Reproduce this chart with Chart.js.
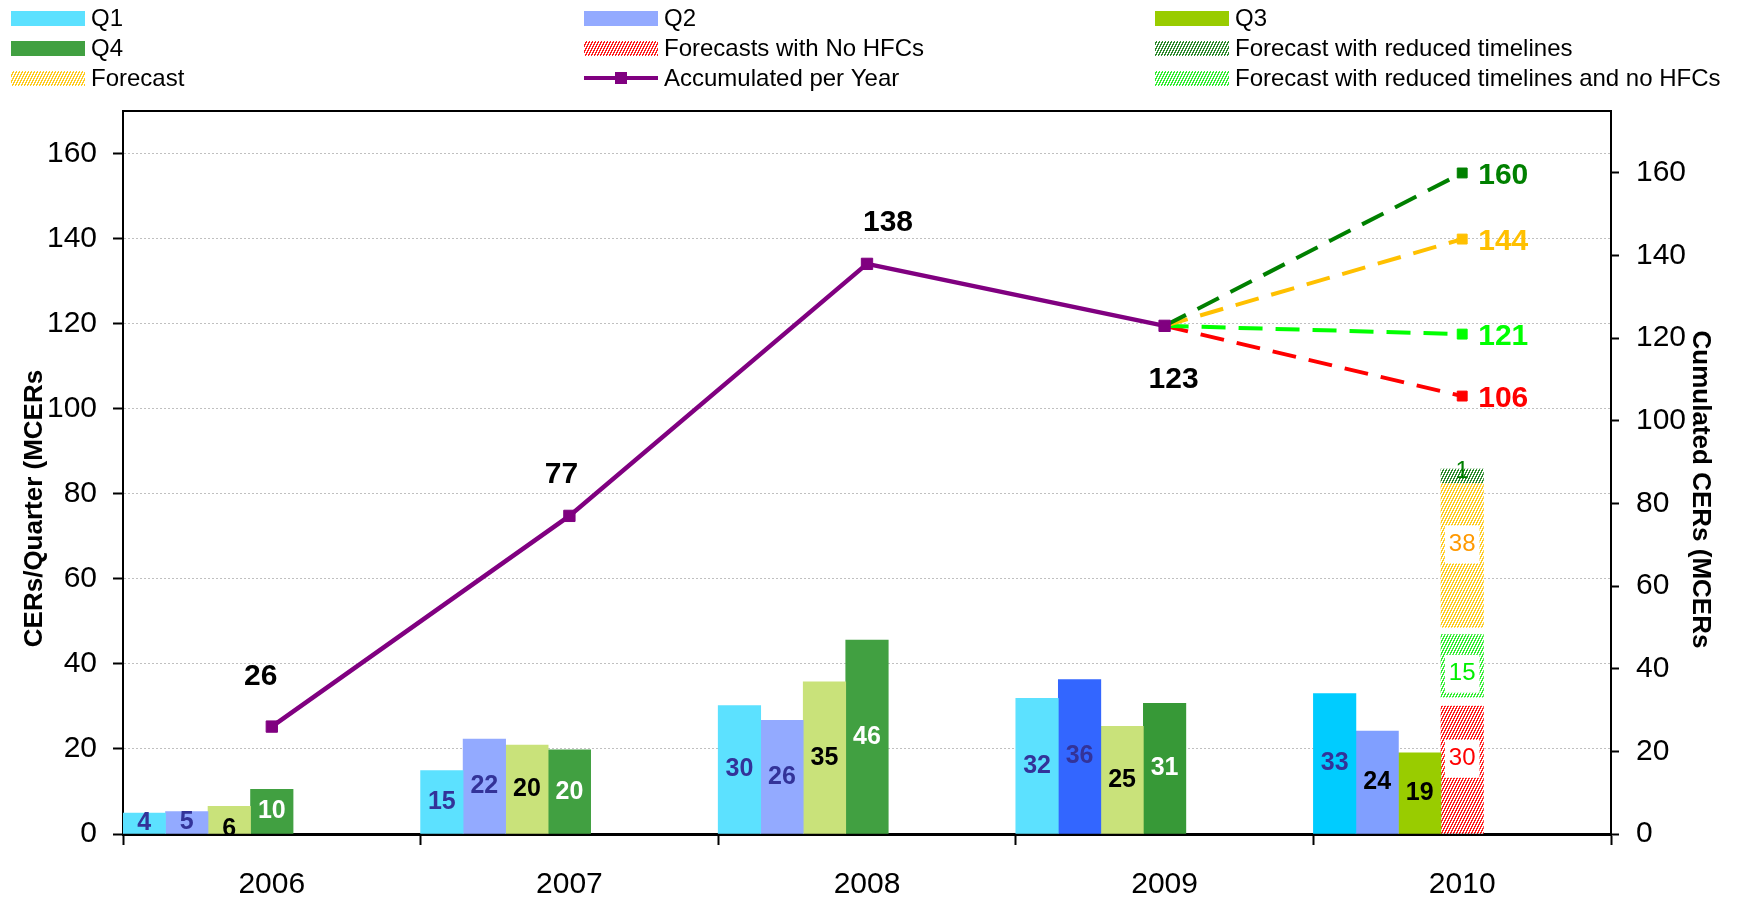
<!DOCTYPE html>
<html>
<head>
<meta charset="utf-8">
<script src="https://cdn.jsdelivr.net/npm/chart.js@4/dist/chart.umd.min.js"></script>
<style>
html, body { margin: 0; padding: 0; background: #fff; }
canvas { display: block; }
</style>
</head>
<body>
<canvas id="grafico" width="1737" height="903"></canvas>
<script>
// categories
const years = ['2006', '2007', '2008', '2009', '2010'];

// quarterly CERs (bar heights) and the numbers printed on them
const q1 = [4.9, 14.9, 30.2, 31.9, 33.0];
const q2 = [5.3, 22.3, 26.7, 36.3, 24.2];
const q3 = [6.5, 20.9, 35.8, 25.3, 19.1];
const q4 = [10.5, 19.8, 45.6, 30.7, null];
const q1Text = ['4', '15', '30', '32', '33'];
const q2Text = ['5', '22', '26', '36', '24'];
const q3Text = ['6', '20', '35', '25', '19'];
const q4Text = ['10', '20', '46', '31', null];

// 2010 forecast segments (floating, start/end on left axis)
const noHfc = [null, null, null, null, [0, 30.1]];
const reducedNoHfc = [null, null, null, null, [32.2, 46.9]];
const forecast = [null, null, null, null, [48.6, 82.4]];
const reduced = [null, null, null, null, [82.5, 85.8]];
const noHfcText = [null, null, null, null, '30'];
const reducedNoHfcText = [null, null, null, null, '15'];
const forecastText = [null, null, null, null, '38'];
const reducedText = [null, null, null, null, '1'];

// cumulated CERs per year (right axis)
const accumulated = [26, 77, 138, 123, null];
const accumulatedText = ['26', '77', '138', '123', null];
const accReduced = [null, null, null, 123, 160];
const accForecast = [null, null, null, 123, 144];
const accReducedNoHfc = [null, null, null, 123, 121];
const accNoHfc = [null, null, null, 123, 106];
const accReducedText = [null, null, null, null, '160'];
const accForecastText = [null, null, null, null, '144'];
const accReducedNoHfcText = [null, null, null, null, '121'];
const accNoHfcText = [null, null, null, null, '106'];

const leftTitle = 'CERs/Quarter (MCERs';
const rightTitle = 'Cumulated CERs (MCERs';

const legendOrder = [
    ['Q1', 'Q2', 'Q3'],
    ['Q4', 'Forecasts with No HFCs', 'Forecast with reduced timelines'],
    ['Forecast', 'Accumulated per Year', 'Forecast with reduced timelines and no HFCs']
];

Chart.defaults.font.family = "'Liberation Sans', Arial, sans-serif";
Chart.defaults.color = '#000';

function hatch(color) {
    const c = document.createElement('canvas');
    c.width = 6; c.height = 6;
    const g = c.getContext('2d');
    g.fillStyle = '#fff';
    g.fillRect(0, 0, 6, 6);
    g.fillStyle = color;
    for (let x = 0; x < 6; x++) {
        for (let y = 0; y < 6; y++) {
            if ((2 * x + y) % 6 < 3) g.fillRect(x, y, 1, 1);
        }
    }
    return g.createPattern(c, 'repeat');
}

const BAR_FONT = "bold 25px 'Liberation Sans', Arial, sans-serif";
const BOX_FONT = "24px 'Liberation Sans', Arial, sans-serif";
const BIG_FONT = "bold 30px 'Liberation Sans', Arial, sans-serif";
const TITLE_FONT = "bold 26px 'Liberation Sans', Arial, sans-serif";

const endRadius = (c) => c.dataIndex === 4 ? 7 : 0;

function forecastLine(label, data, color, text) {
    return {
        type: 'line', label: label, data: data, yAxisID: 'y1',
        borderColor: color, backgroundColor: color, borderWidth: 4,
        borderDash: [24, 13], pointStyle: 'rect', pointRadius: endRadius,
        pointBorderWidth: 1, fill: false, tension: 0,
        printed: text, printColor: color, printFont: BIG_FONT,
        printAlign: 'left', printOffset: [16, 3]
    };
}

const valueLabels = {
    id: 'valueLabels',
    afterDatasetsDraw(chart) {
        const ctx = chart.ctx;
        chart.data.datasets.forEach((ds, i) => {
            if (!ds.printed) return;
            const meta = chart.getDatasetMeta(i);
            meta.data.forEach((el, j) => {
                const txt = ds.printed[j];
                if (txt == null) return;
                let x = el.x, y = el.y;
                if (meta.type === 'bar') y = (el.y + el.base) / 2;
                let off = ds.printOffset || [0, 0];
                if (Array.isArray(off[0])) off = off[j];
                x += off[0]; y += off[1];
                ctx.save();
                ctx.font = ds.printFont;
                ctx.textAlign = ds.printAlign || 'center';
                ctx.textBaseline = 'middle';
                if (ds.printBox) {
                    const w = ctx.measureText(txt).width + 8;
                    ctx.fillStyle = '#fff';
                    ctx.fillRect(x - w / 2, y - 19, w, 38);
                }
                ctx.fillStyle = Array.isArray(ds.printColor) ? ds.printColor[j] : ds.printColor;
                ctx.fillText(txt, x, y);
                ctx.restore();
            });
        });
    }
};

const gridLegend = {
    id: 'gridLegend',
    afterDraw(chart) {
        const ctx = chart.ctx;
        const colX = [11, 584, 1155];
        const rowY = [18, 48, 78];
        ctx.save();
        ctx.font = "24px 'Liberation Sans', Arial, sans-serif";
        ctx.textBaseline = 'middle';
        legendOrder.forEach((row, r) => {
            row.forEach((name, c) => {
                const ds = chart.data.datasets.find(d => d.label === name);
                const x = colX[c], y = rowY[r];
                if (ds.type === 'line') {
                    ctx.strokeStyle = ds.borderColor;
                    ctx.lineWidth = 4;
                    ctx.beginPath();
                    ctx.moveTo(x, y);
                    ctx.lineTo(x + 74, y);
                    ctx.stroke();
                    ctx.fillStyle = ds.borderColor;
                    ctx.fillRect(x + 31, y - 6, 12, 12);
                } else {
                    ctx.fillStyle = ds.legendColor || ds.backgroundColor;
                    ctx.fillRect(x, y - 7, 74, 15);
                }
                ctx.fillStyle = '#000';
                ctx.fillText(name, x + 80, y + 1);
            });
        });
        ctx.restore();
    }
};

const frame = {
    id: 'frame',
    afterDraw(chart) {
        const {ctx, chartArea} = chart;
        const mid = (chartArea.top + chartArea.bottom) / 2;
        ctx.save();
        ctx.strokeStyle = '#000';
        ctx.lineWidth = 2;
        ctx.beginPath();
        ctx.moveTo(chartArea.left, chartArea.top);
        ctx.lineTo(chartArea.right, chartArea.top);
        ctx.stroke();
        ctx.font = TITLE_FONT;
        ctx.fillStyle = '#000';
        ctx.textAlign = 'center';
        ctx.textBaseline = 'middle';
        ctx.save();
        ctx.translate(35, mid + 36);
        ctx.rotate(-Math.PI / 2);
        ctx.fillText(leftTitle, 0, 0);
        ctx.restore();
        ctx.translate(1700, mid + 17);
        ctx.rotate(Math.PI / 2);
        ctx.fillText(rightTitle, 0, 0);
        ctx.restore();
    }
};

const ctx = document.getElementById('grafico').getContext('2d');
new Chart(ctx, {
    type: 'bar',
    data: {
        labels: years,
        datasets: [
            {
                type: 'line', label: 'Accumulated per Year', data: accumulated, yAxisID: 'y1',
                borderColor: '#800080', backgroundColor: '#800080', borderWidth: 4.5,
                pointStyle: 'rect', pointRadius: 8, pointBorderWidth: 1, fill: false, tension: 0,
                printed: accumulatedText, printColor: '#000', printFont: BIG_FONT,
                printOffset: [[-11, -50], [-8, -41], [21, -41], [9, 54], [0, 0]]
            },
            forecastLine('Cumulated with reduced timelines', accReduced, '#008000', accReducedText),
            forecastLine('Cumulated forecast', accForecast, '#FFC000', accForecastText),
            forecastLine('Cumulated with reduced timelines and no HFCs', accReducedNoHfc, '#00FF00', accReducedNoHfcText),
            forecastLine('Cumulated with No HFCs', accNoHfc, '#FF0000', accNoHfcText),
            {
                label: 'Q1', data: q1, stack: 's1',
                backgroundColor: ['#5CE1FF', '#5CE1FF', '#5CE1FF', '#5CE1FF', '#00CCFF'],
                legendColor: '#5CE1FF',
                printed: q1Text, printColor: '#333399', printFont: BAR_FONT
            },
            {
                label: 'Q2', data: q2, stack: 's2',
                backgroundColor: ['#93AAFF', '#93AAFF', '#93AAFF', '#3366FF', '#809FFF'],
                legendColor: '#93AAFF',
                printed: q2Text, printColor: ['#333399', '#333399', '#333399', '#333399', '#000'], printFont: BAR_FONT
            },
            {
                label: 'Q3', data: q3, stack: 's3',
                backgroundColor: ['#C9E27A', '#C9E27A', '#C9E27A', '#C9E27A', '#99CC00'],
                legendColor: '#99CC00',
                printed: q3Text, printColor: '#000', printFont: BAR_FONT,
                printOffset: [[0, 9], [0, 0], [0, 0], [0, 0], [0, 0]]
            },
            {
                label: 'Q4', data: q4, stack: 's4',
                backgroundColor: ['#41A041', '#41A041', '#41A041', '#379937', '#41A041'],
                legendColor: '#41A041',
                printed: q4Text, printColor: '#fff', printFont: BAR_FONT
            },
            {
                label: 'Forecasts with No HFCs', data: noHfc, stack: 's4',
                backgroundColor: hatch('#FF2020'),
                printed: noHfcText, printColor: '#FF0000', printFont: BOX_FONT, printBox: true, printOffset: [0, -11]
            },
            {
                label: 'Forecast with reduced timelines and no HFCs', data: reducedNoHfc, stack: 's4',
                backgroundColor: hatch('#33EE33'),
                printed: reducedNoHfcText, printColor: '#00EE00', printFont: BOX_FONT, printBox: true, printOffset: [0, 8]
            },
            {
                label: 'Forecast', data: forecast, stack: 's4',
                backgroundColor: hatch('#FFCC22'),
                printed: forecastText, printColor: '#FF9900', printFont: BOX_FONT, printBox: true, printOffset: [0, -11]
            },
            {
                label: 'Forecast with reduced timelines', data: reduced, stack: 's4',
                backgroundColor: hatch('#2E8B2E'),
                printed: reducedText, printColor: '#008000', printFont: BOX_FONT, printOffset: [0, -5]
            },
            // empty slots so each year is split in seven bar widths like the original
            { label: '', data: [], stack: 's5' },
            { label: '', data: [], stack: 's6' },
            { label: '', data: [], stack: 's7' }
        ]
    },
    options: {
        responsive: false,
        animation: false,
        layout: { padding: { top: 111, left: 0, right: 0, bottom: 0 } },
        datasets: { bar: { categoryPercentage: 1, barPercentage: 1, borderWidth: 0 } },
        plugins: {
            legend: { display: false },
            tooltip: { enabled: false }
        },
        scales: {
            x: {
                offset: true,
                grid: { offset: true, drawOnChartArea: false, tickLength: 11, tickColor: '#000', tickWidth: 2 },
                border: { color: '#000', width: 3 },
                ticks: { font: { size: 30 }, color: '#000', padding: 22 },
                afterFit: (s) => { s.height = 69; }
            },
            y: {
                position: 'left', min: 0, max: 170, stacked: false,
                ticks: { stepSize: 20, includeBounds: false, font: { size: 30 }, color: '#000', padding: 16 },
                grid: { color: '#C0C0C0', lineWidth: 1, tickLength: 10, tickColor: '#000', tickWidth: 2 },
                border: { color: '#000', width: 2, dash: [2, 2] },
                afterFit: (s) => { s.width = 123; }
            },
            y1: {
                position: 'right', min: 0, max: 175,
                ticks: { stepSize: 20, includeBounds: false, font: { size: 30 }, color: '#000', padding: 17 },
                grid: { drawOnChartArea: false, tickLength: 8, tickColor: '#000', tickWidth: 2 },
                border: { color: '#000', width: 2 },
                afterFit: (s) => { s.width = 126; }
            }
        }
    },
    plugins: [valueLabels, gridLegend, frame]
});
</script>
</body>
</html>
